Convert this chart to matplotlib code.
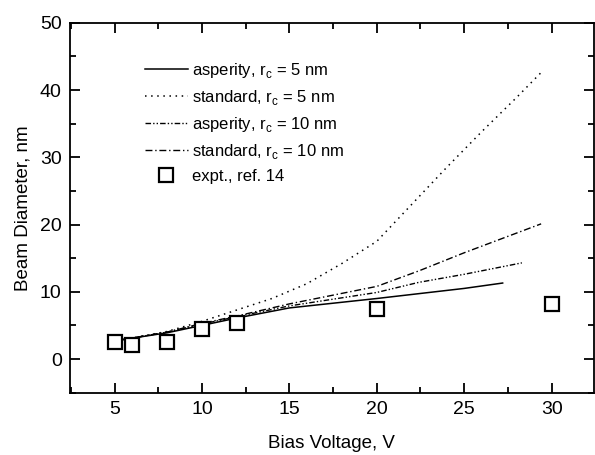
import matplotlib.pyplot as plt
from matplotlib.ticker import MultipleLocator

plt.rcParams['font.family'] = ['Liberation Sans', 'DejaVu Sans']
plt.rcParams['mathtext.fontset'] = 'custom'
plt.rcParams['mathtext.rm'] = 'Liberation Sans'

# model curves
v_asp5 = [5.5, 8, 10, 12, 15, 20, 25, 27.2]
d_asp5 = [2.9, 3.9, 5.0, 6.1, 7.6, 9.0, 10.5, 11.3]

v_std5 = [5.5, 8, 10, 12, 14, 16, 18, 20, 22, 24, 26, 28, 29.4]
d_std5 = [2.9, 4.1, 5.6, 7.3, 9.0, 11.2, 14.2, 17.5, 23.0, 28.5, 33.8, 38.9, 42.6]

v_asp10 = [5.5, 8, 10, 12, 15, 20, 22.4, 25, 28.3]
d_asp10 = [2.9, 4.0, 5.2, 6.3, 7.9, 9.9, 11.4, 12.6, 14.3]

v_std10 = [5.5, 8, 10, 12, 15, 20, 22.4, 25, 29.4]
d_std10 = [2.9, 4.0, 5.3, 6.4, 8.2, 10.8, 13.1, 15.8, 20.1]

# experimental points (ref. 14)
v_expt = [5, 6, 8, 10, 12, 20, 30]
d_expt = [2.5, 2.1, 2.5, 4.5, 5.3, 7.5, 8.2]

fig = plt.figure(figsize=(5.95, 4.55), dpi=100)
ax = fig.add_axes([0.1176, 0.137, 0.880, 0.813])

ax.plot(v_asp5, d_asp5, color='black', lw=1.1, ls='-',
        label=r'asperity, r$_{\rm c}$ = 5 nm')
ax.plot(v_std5, d_std5, color='black', lw=1.1, ls=(0, (1, 3)),
        label=r'standard, r$_{\rm c}$ = 5 nm')
ax.plot(v_asp10, d_asp10, color='black', lw=1.0, ls=(0, (4, 1.5, 1, 1.5, 1, 1.5)),
        label=r'asperity, r$_{\rm c}$ = 10 nm')
ax.plot(v_std10, d_std10, color='black', lw=1.0, ls=(0, (5, 2, 1, 2)),
        label=r'standard, r$_{\rm c}$ = 10 nm')
ax.plot(v_expt, d_expt, ls='none', marker='s', ms=9.5, mfc='white',
        mec='black', mew=1.6, label='expt., ref. 14')

ax.set_xlim(2.45, 32.4)
ax.set_ylim(-5, 50)
ax.xaxis.set_major_locator(MultipleLocator(5))
ax.xaxis.set_minor_locator(MultipleLocator(2.5))
ax.yaxis.set_major_locator(MultipleLocator(10))
ax.yaxis.set_minor_locator(MultipleLocator(5))
ax.tick_params(which='both', direction='in', top=True, right=True,
               labelsize=14, width=1.3)
ax.tick_params(which='major', length=7, pad=6)
ax.tick_params(which='minor', length=4)
for sp in ax.spines.values():
    sp.set_linewidth(1.3)

ax.set_xlabel('Bias Voltage, V', fontsize=13.5, labelpad=12)
ax.set_ylabel('Beam Diameter, nm', fontsize=13.5, labelpad=6)

ax.legend(loc='upper left', bbox_to_anchor=(0.13, 0.915), frameon=False,
          fontsize=12, handlelength=2.6, handletextpad=0.25,
          labelspacing=0.48, borderaxespad=0)

fig.savefig('out.png', dpi=100)
